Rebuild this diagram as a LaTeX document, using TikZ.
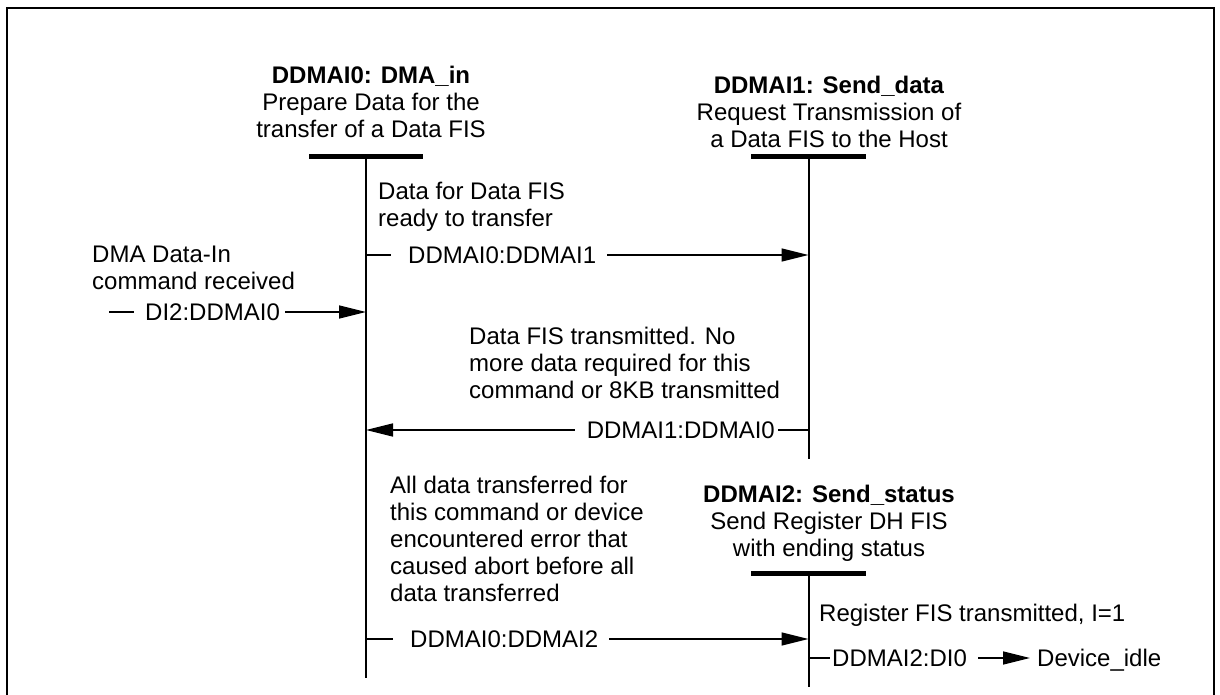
\documentclass[tikz,border=0pt]{standalone}
\usepackage{fontspec}
\setmainfont{Liberation Sans}
\usetikzlibrary{arrows.meta,positioning,calc}

\tikzset{
  every node/.style={font=\fontsize{24}{27}\selectfont,inner sep=0pt},
  statebar/.style={line width=5pt},
  stateline/.style={line width=2pt},
  conn/.style={line width=1.5pt},
  arr/.style={conn,-{Triangle[length=27pt,width=13pt]}},
  title/.style={align=center,anchor=north},
  note/.style={align=left,anchor=north west},
  trans/.style={anchor=west,text height=17pt,text depth=0pt}
}

\begin{document}
\begin{tikzpicture}[x=1pt,y=-1pt]
  \useasboundingbox (0,0) rectangle (1220,695);
  \draw[line width=2.5pt] (7,705) -- (7,8) -- (1214,8) -- (1214,705);

  % states
  \coordinate (s0) at (366,156.5);
  \coordinate (s1) at (808.5,156.5);
  \coordinate (s2) at (808.5,573);
  \coordinate (e0) at (366,678);
  \coordinate (e1) at (808.5,459);
  \coordinate (e2) at (808.5,687);

  \node[title] (t0) at (371,66)
        {\textbf{DDMAI0: DMA\_in}\\Prepare Data for the\\transfer of a Data FIS};
  \node[title] (t1) at (829,75.5)
        {\textbf{DDMAI1: Send\_data}\\Request Transmission of\\a Data FIS to the Host};
  \node[title] (t2) at (829,484.5)
        {\textbf{DDMAI2: Send\_status}\\Send Register DH FIS\\with ending status};

  \draw[statebar] ([xshift=-57pt]s0) -- ([xshift=57pt]s0);
  \draw[statebar] ([xshift=-57.5pt]s1) -- ([xshift=57.5pt]s1);
  \draw[statebar] ([xshift=-57.5pt]s2) -- ([xshift=57.5pt]s2);
  \draw[stateline] (s0) -- (e0);
  \draw[stateline] (s1) -- (e1);
  \draw[stateline] (s2) -- (e2);

  % conditions
  \node[note] (c01) at (378,181.5) {Data for Data FIS\\ready to transfer};
  \node[note] (cin) at (92,245.5) {DMA Data-In\\command received};
  \node[note] (c10) at (469,326.5)
        {Data FIS transmitted. No\\more data required for this\\command or 8KB transmitted};
  \node[note] (c02) at (390,475.5)
        {All data transferred for\\this command or device\\encountered error that\\caused abort before all\\data transferred};
  \node[note] (c2i) at (819,604) {Register FIS transmitted, I=1};

  % transitions
  \node[trans] (t01) at (408,255) {DDMAI0:DDMAI1};
  \draw[conn] (s0 |- t01) -- ([xshift=-17pt]t01.west);
  \draw[arr] ([xshift=11pt]t01.east) -- (s1 |- t01);

  \node[trans] (tin) at (145,312) {DI2:DDMAI0};
  \draw[conn] ([xshift=-36pt]tin.west) -- ([xshift=-11pt]tin.west);
  \draw[arr] ([xshift=5pt]tin.east) -- (s0 |- tin);

  \node[trans,anchor=east] (t10) at (775,430) {DDMAI1:DDMAI0};
  \draw[conn] (s1 |- t10) -- ([xshift=3pt]t10.east);
  \draw[arr] ([xshift=-12pt]t10.west) -- (s0 |- t10);

  \node[trans] (t02) at (410,639) {DDMAI0:DDMAI2};
  \draw[conn] (s0 |- t02) -- ([xshift=-17pt]t02.west);
  \draw[arr] ([xshift=11pt]t02.east) -- (s2 |- t02);

  \node[trans] (t2i) at (832,658) {DDMAI2:DI0};
  \node[trans] (idle) at (1037,658) {Device\_idle};
  \draw[conn] (s2 |- t2i) -- ([xshift=-2pt]t2i.west);
  \draw[arr] ([xshift=11pt]t2i.east) -- ([xshift=-7pt]idle.west);
\end{tikzpicture}
\end{document}
